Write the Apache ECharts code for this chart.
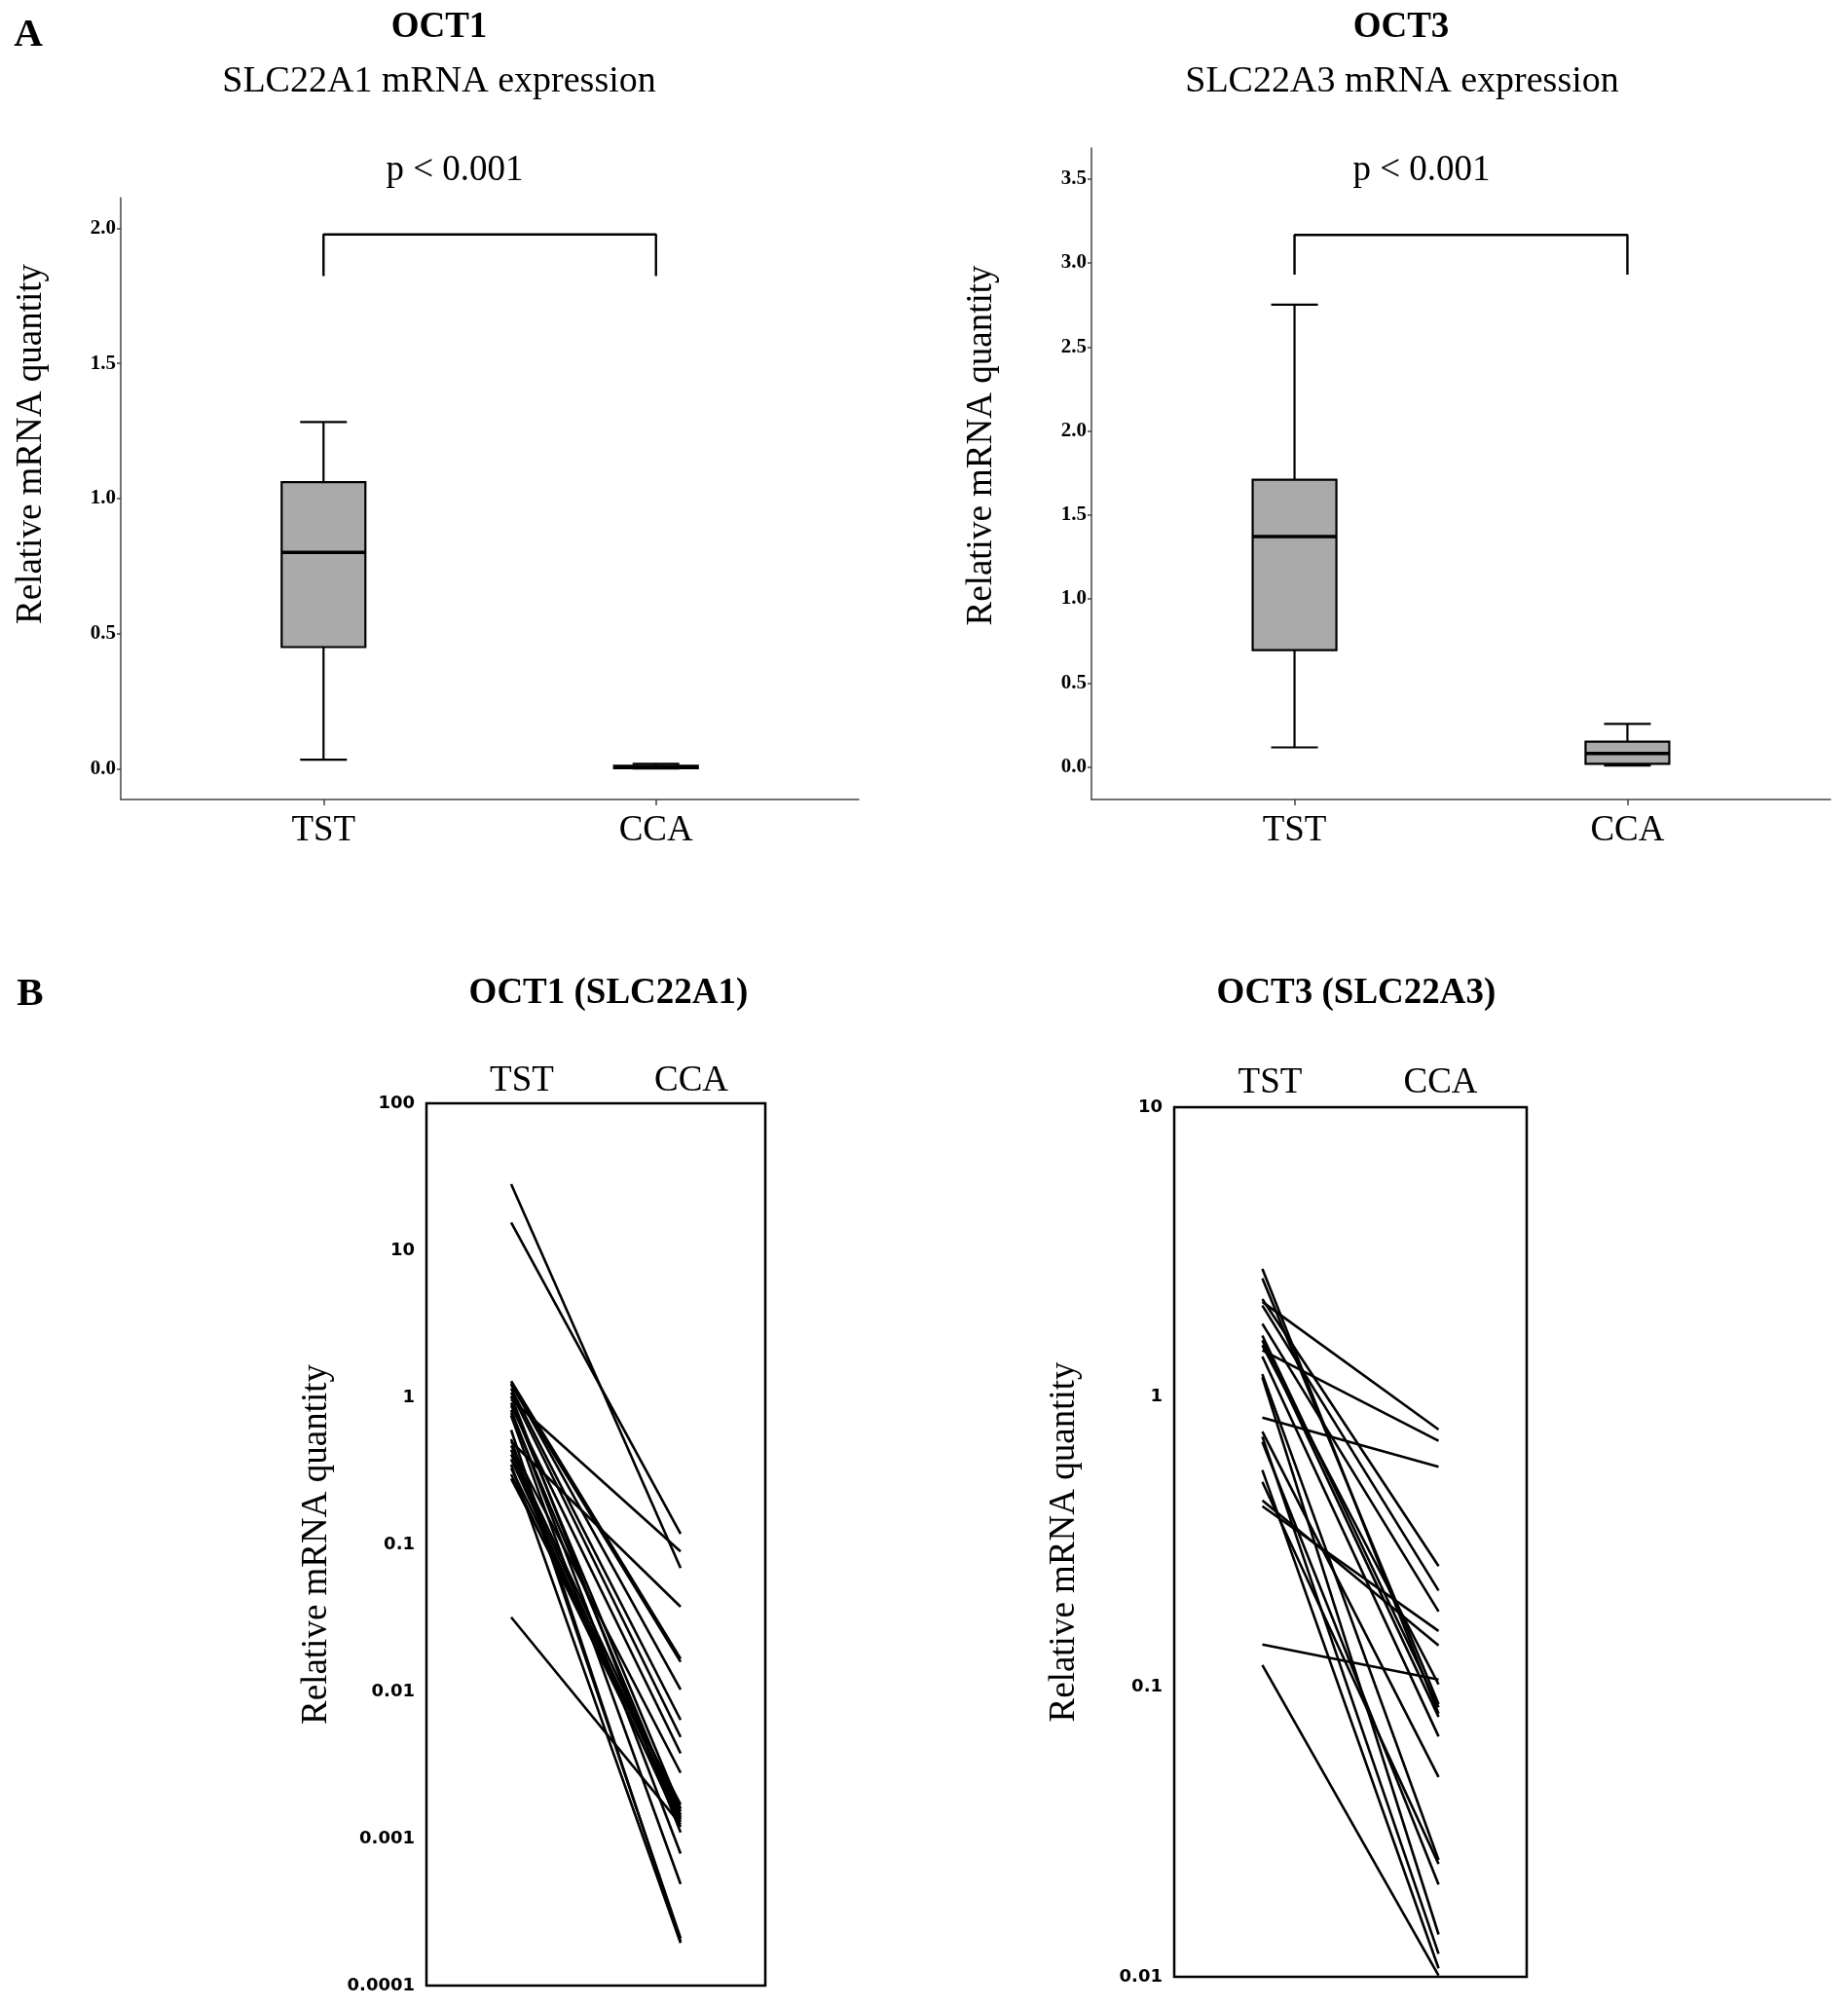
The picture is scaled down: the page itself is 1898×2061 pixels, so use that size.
<!DOCTYPE html>
<html><head><meta charset="utf-8">
<script src="https://cdn.jsdelivr.net/npm/echarts@6/dist/echarts.min.js"></script>
<style>html,body{margin:0;padding:0;background:#fff}#chart{width:1898px;height:2061px}</style>
</head><body><div id="chart"></div>
<script>
// ---------- DATA ----------
const groups = ['TST', 'CCA'];
const groupPos = [1, 2];
// Panel A box statistics: [lower whisker, Q1, median, Q3, upper whisker]
const oct1TstBox = [0.033, 0.45, 0.80, 1.06, 1.283];
const oct1CcaBox = [0.0005, 0.002, 0.006, 0.011, 0.018];
const oct3TstBox = [0.116, 0.695, 1.371, 1.71, 2.751];
const oct3CcaBox = [0.008, 0.018, 0.08, 0.15, 0.256];
const oct1TicksA = [0, 0.5, 1.0, 1.5, 2.0];
const oct3TicksA = [0, 0.5, 1.0, 1.5, 2.0, 2.5, 3.0, 3.5];
// significance brackets: [top, bottom of drops]
const oct1Bracket = [1.977, 1.823];
const oct3Bracket = [3.167, 2.93];
// Panel B paired samples (TST -> CCA)
const oct1PairTst = [28.2, 15.5, 0.032, 1.29, 1.25, 1.22, 1.15, 1.08, 1.02, 0.97, 0.92, 0.88, 0.82, 0.78, 0.75, 0.60, 0.52, 0.50, 0.47, 0.44, 0.41, 0.38, 0.35, 0.33, 0.30, 0.28];
const oct1PairCca = [0.069, 0.118, 0.00125, 0.0167, 0.0103, 0.0159, 0.0064, 0.0049, 0.0011, 0.0895, 0.0016, 0.0038, 0.00079, 0.0014, 0.00049, 0.0002, 0.00021, 0.0377, 0.0028, 0.00153, 0.00135, 0.0012, 0.000195, 0.00145, 0.0013, 0.0017];
const oct3PairTst = [0.14, 0.119, 0.85, 2.13, 1.45, 0.44, 0.42, 2.77, 2.57, 2.18, 2.07, 1.79, 1.63, 1.57, 1.51, 1.38, 1.20, 1.17, 0.76, 0.73, 0.70, 0.56, 0.51];
const oct3PairCca = [0.106, 0.0101, 0.575, 0.773, 0.706, 0.139, 0.156, 0.0809, 0.0873, 0.261, 0.215, 0.182, 0.0851, 0.0788, 0.102, 0.0675, 0.0253, 0.0140, 0.0489, 0.0120, 0.0208, 0.0107, 0.0245];
const oct1LogTicks = [0.0001, 0.001, 0.01, 0.1, 1, 10, 100];
const oct1LogLabels = ['0.0001', '0.001', '0.01', '0.1', '1', '10', '100'];
const oct3LogTicks = [0.01, 0.1, 1, 10];
const oct3LogLabels = ['0.01', '0.1', '1', '10'];

// ---------- CHART ----------
const SERIF = '"Liberation Serif", "Times New Roman", serif';
const chart = echarts.init(document.getElementById('chart'), null, {renderer: 'canvas'});

function boxRender(params, api) {
  const x = api.value(0);
  const lo = api.coord([x, api.value(1)]);
  const q1 = api.coord([x, api.value(2)]);
  const md = api.coord([x, api.value(3)]);
  const q3 = api.coord([x, api.value(4)]);
  const hi = api.coord([x, api.value(5)]);
  const cx = lo[0], hw = 43, cw = 24;
  const ls = {stroke: '#000', lineWidth: 2.2};
  return {type: 'group', children: [
    {type: 'line', shape: {x1: cx, y1: q3[1], x2: cx, y2: hi[1]}, style: ls},
    {type: 'line', shape: {x1: cx, y1: lo[1], x2: cx, y2: q1[1]}, style: ls},
    {type: 'line', shape: {x1: cx - cw, y1: hi[1], x2: cx + cw, y2: hi[1]}, style: ls},
    {type: 'line', shape: {x1: cx - cw, y1: lo[1], x2: cx + cw, y2: lo[1]}, style: ls},
    {type: 'rect', shape: {x: cx - hw, y: q3[1], width: 2 * hw, height: q1[1] - q3[1]}, style: {fill: '#aaaaaa', stroke: '#000', lineWidth: 2.2}},
    {type: 'line', shape: {x1: cx - hw, y1: md[1], x2: cx + hw, y2: md[1]}, style: {stroke: '#000', lineWidth: 3.5}}
  ]};
}

function aXAxis(gi) {
  return {
    type: 'value', gridIndex: gi, min: 0.39, max: 2.61,
    axisLine: {show: true, onZero: false, lineStyle: {color: '#444', width: 1.5}},
    axisTick: {show: true, customValues: groupPos, length: 6, lineStyle: {color: '#444', width: 1.5}},
    axisLabel: {customValues: groupPos, formatter: v => groups[Math.round(v) - 1] || '', fontFamily: SERIF, fontSize: 37, color: '#000', margin: 14},
    splitLine: {show: false}
  };
}
function aYAxis(gi, min, max, ticks, gap, shift) {
  return {
    type: 'value', gridIndex: gi, min: min, max: max,
    axisLine: {show: true, onZero: false, lineStyle: {color: '#444', width: 1.5}},
    axisTick: {show: true, customValues: ticks, length: 4, lineStyle: {color: '#444', width: 1.5}},
    axisLabel: {customValues: ticks, formatter: v => Number(v).toFixed(1), fontFamily: SERIF, fontWeight: 'bold', fontSize: 21, color: '#000', margin: 5},
    splitLine: {show: false},
    name: 'Relative mRNA quantity', nameLocation: 'middle', nameGap: gap,
    nameTextStyle: {fontFamily: SERIF, fontSize: 37, color: '#000', padding: [0, 0, 0, shift]}
  };
}
function bXAxis(gi, margin, pads) {
  return {
    type: 'category', gridIndex: gi, position: 'top',
    data: groups.map((g, i) => ({value: g, textStyle: {padding: [0, 0, 0, pads[i]]}})),
    axisLine: {show: false}, axisTick: {show: false},
    axisLabel: {fontFamily: SERIF, fontSize: 37, color: '#000', margin: margin},
    splitLine: {show: false}
  };
}
function bYAxis(gi, min, max, ticks, labels, gap) {
  return {
    type: 'log', logBase: 10, gridIndex: gi, min: min, max: max,
    axisLine: {show: false}, axisTick: {show: false},
    axisLabel: {
      formatter: v => {
        let best = 0, bd = Infinity;
        ticks.forEach((t, i) => { const d = Math.abs(Math.log10(t) - Math.log10(v)); if (d < bd) { bd = d; best = i; } });
        return bd < 0.01 ? labels[best] : '';
      },
      fontFamily: '"DejaVu Sans", sans-serif', fontWeight: 'bold', fontSize: 18, color: '#000', margin: 12
    },
    splitLine: {show: false},
    name: 'Relative mRNA quantity', nameLocation: 'middle', nameGap: gap,
    nameTextStyle: {fontFamily: SERIF, fontSize: 37, color: '#000'}
  };
}
function bracketData(b) {
  return [[groupPos[0], b[1]], [groupPos[0], b[0]], [groupPos[1], b[0]], [groupPos[1], b[1]]];
}
function pairSeries(tst, cca, ai) {
  return tst.map((v, i) => ({
    type: 'line', xAxisIndex: ai, yAxisIndex: ai, data: [v, cca[i]],
    symbol: 'none', silent: true, lineStyle: {color: '#000', width: 2.6}
  }));
}
function txt(text, x, y, size, bold) {
  return {type: 'text', x: x, y: y, silent: true,
    style: {text: text, font: (bold ? 'bold ' : '') + size + 'px ' + SERIF, fill: '#000',
      textAlign: 'center', textVerticalAlign: 'middle', align: 'center', verticalAlign: 'middle'}};
}

const option = {
  backgroundColor: '#fff',
  animation: false,
  grid: [
    {left: 124, top: 203, width: 758, height: 618},
    {left: 1121, top: 152, width: 759, height: 669},
    {left: 438, top: 1133, width: 348, height: 906, show: true, borderColor: '#000', borderWidth: 2.5, backgroundColor: 'transparent'},
    {left: 1206, top: 1137, width: 362, height: 893, show: true, borderColor: '#000', borderWidth: 2.5, backgroundColor: 'transparent'}
  ],
  xAxis: [aXAxis(0), aXAxis(1), bXAxis(2, 4, [22, 22]), bXAxis(3, 6, [16, 4])],
  yAxis: [
    aYAxis(0, -0.114, 2.113, oct1TicksA, 73, 112),
    aYAxis(1, -0.194, 3.684, oct3TicksA, 94, 58),
    bYAxis(2, 0.0001, 100, oct1LogTicks, oct1LogLabels, 94),
    bYAxis(3, 0.01, 10, oct3LogTicks, oct3LogLabels, 94)
  ],
  series: [
    {type: 'custom', xAxisIndex: 0, yAxisIndex: 0, renderItem: boxRender, encode: {x: 0, y: [1, 2, 3, 4, 5]},
      data: [[groupPos[0]].concat(oct1TstBox), [groupPos[1]].concat(oct1CcaBox)]},
    {type: 'custom', xAxisIndex: 1, yAxisIndex: 1, renderItem: boxRender, encode: {x: 0, y: [1, 2, 3, 4, 5]},
      data: [[groupPos[0]].concat(oct3TstBox), [groupPos[1]].concat(oct3CcaBox)]},
    {type: 'line', xAxisIndex: 0, yAxisIndex: 0, data: bracketData(oct1Bracket), symbol: 'none', silent: true, lineStyle: {color: '#000', width: 2.4}},
    {type: 'line', xAxisIndex: 1, yAxisIndex: 1, data: bracketData(oct3Bracket), symbol: 'none', silent: true, lineStyle: {color: '#000', width: 2.4}}
  ].concat(pairSeries(oct1PairTst, oct1PairCca, 2), pairSeries(oct3PairTst, oct3PairCca, 3)),
  graphic: [
    txt('A', 29, 36, 41, true),
    txt('OCT1', 451, 28, 37, true),
    txt('SLC22A1 mRNA expression', 451, 84, 38, false),
    txt('p < 0.001', 467, 175, 37, false),
    txt('OCT3', 1439, 28, 37, true),
    txt('SLC22A3 mRNA expression', 1440, 84, 38, false),
    txt('p < 0.001', 1460, 175, 37, false),
    txt('B', 31, 1021, 41, true),
    txt('OCT1 (SLC22A1)', 625, 1020, 37, true),
    txt('OCT3 (SLC22A3)', 1393, 1020, 37, true)
  ]
};
chart.setOption(option);
</script>
</body></html>
